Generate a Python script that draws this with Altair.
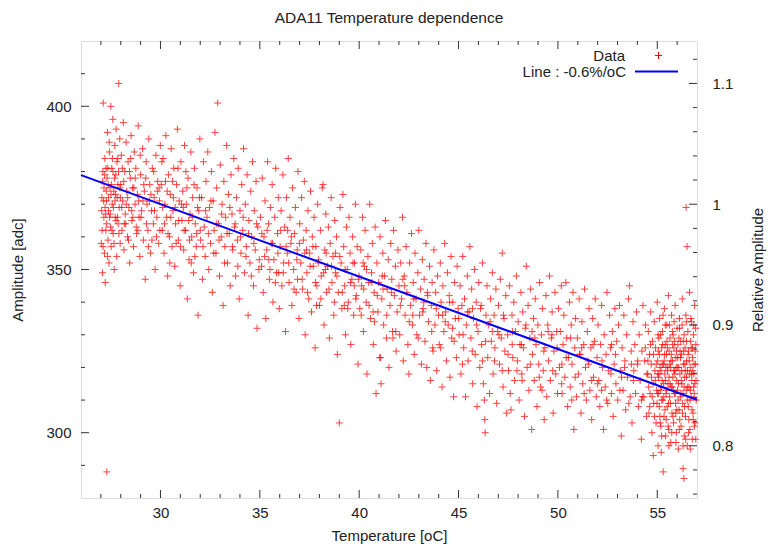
import altair as alt
import pandas as pd

# ---- scatter data (temperature [oC], amplitude [adc]) ----
seg_27_30 = [(27.02,358),(27.05,372),(27.08,349),(27.10,380),(27.12,401),(27.15,366),(27.18,355),(27.20,384),(27.22,346),(27.25,362),
(27.28,371),(27.30,288),(27.31,378),(27.33,392),(27.36,359),(27.38,368),(27.41,352),(27.43,386),(27.46,375),(27.48,363),(27.50,400),
(27.52,357),(27.55,381),(27.57,370),(27.60,396),(27.62,361),(27.65,374),(27.67,350),(27.70,388),(27.72,366),(27.75,379),(27.77,393),
(27.80,354),(27.82,372),(27.85,384),(27.87,364),(27.90,407),(27.92,369),(27.95,390),(27.97,358),(28.00,376),(28.03,385),(28.06,362),
(28.10,371),(28.13,395),(28.16,356),(28.20,380),(28.23,367),(28.27,389),(28.30,374),(28.34,360),(28.37,383),(28.41,369),(28.45,352),
(28.48,378),(28.52,391),(28.56,365),(28.60,375),(28.64,357),(28.68,386),(28.72,370),(28.76,381),(28.80,361),(28.84,373),(28.88,394),
(28.92,366),(28.96,354),(29.00,379),(29.05,368),(29.10,387),(29.14,359),(29.19,374),(29.23,347),(29.28,383),(29.32,370),(29.37,362),
(29.41,390),(29.46,376),(29.50,355),(29.55,368),(29.59,381),(29.64,364),(29.68,372),(29.73,350),(29.77,385),(29.82,366),(29.86,377),
(29.91,358),(29.95,371),(29.99,388)]

seg_30_35 = [(30.04,376),(30.09,362),(30.13,384),(30.18,355),(30.22,370),(30.27,391),(30.31,366),(30.36,348),(30.40,379),(30.45,360),
(30.49,373),(30.54,387),(30.58,357),(30.63,368),(30.67,381),(30.72,351),(30.76,364),(30.81,376),(30.85,393),(30.90,359),(30.94,371),
(30.99,345),(31.03,383),(31.08,365),(31.12,374),(31.17,356),(31.21,388),(31.26,362),(31.30,370),(31.35,341),(31.39,378),(31.44,353),
(31.48,367),(31.53,386),(31.57,360),(31.62,372),(31.66,349),(31.71,381),(31.75,364),(31.80,357),(31.84,375),(31.89,336),(31.93,368),
(31.98,390),(32.02,359),(32.07,372),(32.11,347),(32.16,383),(32.20,363),(32.25,354),(32.29,377),(32.34,366),(32.38,386),(32.43,350),
(32.47,369),(32.52,358),(32.56,380),(32.61,343),(32.65,371),(32.70,362),(32.74,392),(32.79,355),(32.83,375),(32.88,401),(32.92,364),
(32.97,348),(33.01,382),(33.06,360),(33.10,370),(33.15,339),(33.19,377),(33.24,357),(33.28,366),(33.33,388),(33.37,352),(33.42,373),
(33.46,361),(33.51,345),(33.55,379),(33.60,367),(33.64,356),(33.69,384),(33.73,363),(33.78,348),(33.82,372),(33.87,359),(33.91,381),
(33.96,341),(34.00,368),(34.05,355),(34.09,376),(34.14,362),(34.18,387),(34.23,349),(34.27,370),(34.32,357),(34.36,379),(34.41,336),
(34.45,365),(34.50,352),(34.54,374),(34.59,360),(34.63,383),(34.68,345),(34.72,368),(34.77,356),(34.81,377),(34.86,332),(34.90,363),
(34.95,350)]

seg_35_40 = [(35.03,366),(35.08,351),(35.12,378),(35.17,343),(35.21,360),(35.26,371),(35.30,335),(35.35,356),(35.39,383),(35.44,364),
(35.48,347),(35.53,369),(35.57,358),(35.62,376),(35.66,340),(35.71,353),(35.75,366),(35.80,381),(35.84,349),(35.89,361),(35.93,372),
(35.98,338),(36.02,357),(36.07,368),(36.11,345),(36.16,379),(36.20,352),(36.25,363),(36.29,331),(36.34,372),(36.38,355),(36.43,384),
(36.47,346),(36.52,366),(36.56,358),(36.61,339),(36.65,375),(36.70,350),(36.74,361),(36.79,369),(36.83,343),(36.88,356),(36.92,380),
(36.97,335),(37.01,364),(37.06,352),(37.10,372),(37.15,344),(37.19,359),(37.24,377),(37.28,330),(37.33,362),(37.37,349),(37.42,368),
(37.46,341),(37.51,355),(37.55,374),(37.60,337),(37.64,360),(37.69,351),(37.73,366),(37.78,326),(37.82,357),(37.87,345),(37.91,370),
(37.96,353),(38.00,339),(38.05,362),(38.09,348),(38.14,375),(38.18,376),(38.23,333),(38.27,356),(38.32,367),(38.36,343),(38.41,351),
(38.45,363),(38.50,329),(38.54,358),(38.59,372),(38.63,346),(38.68,354),(38.72,336),(38.77,365),(38.81,349),(38.86,360),(38.90,324),
(38.95,343),(39.00,303),(39.04,369),(39.09,352),(39.13,338),(39.18,373),(39.22,357),(39.27,345),(39.31,330),(39.36,363),(39.40,350),
(39.45,340),(39.49,366),(39.54,355),(39.58,327),(39.63,347),(39.67,360),(39.72,336),(39.76,352),(39.81,370),(39.85,342),(39.90,357),
(39.94,321),(39.99,348)]

seg_40_45 = [(40.03,338),(40.08,356),(40.12,345),(40.17,366),(40.21,331),(40.26,351),(40.30,362),(40.35,340),(40.39,318),(40.44,354),
(40.48,346),(40.53,370),(40.57,335),(40.62,349),(40.66,358),(40.71,327),(40.75,343),(40.80,363),(40.85,312),(40.89,352),(40.94,337),
(40.98,346),(41.03,323),(41.05,360),(41.08,323),(41.10,315),(41.14,341),(41.19,355),(41.23,333),(41.28,348),(41.32,365),(41.37,329),
(41.41,344),(41.46,353),(41.50,320),(41.55,339),(41.59,358),(41.64,347),(41.68,331),(41.73,362),(41.77,342),(41.82,351),(41.86,325),
(41.91,337),(41.95,356),(42.00,345),(42.04,330),(42.09,352),(42.13,341),(42.18,366),(42.22,322),(42.27,348),(42.31,336),(42.36,357),
(42.40,343),(42.45,327),(42.50,318),(42.54,352),(42.59,339),(42.63,361),(42.68,333),(42.72,346),(42.77,324),(42.81,355),(42.86,341),
(42.90,330),(42.95,349),(43.00,362),(43.04,336),(43.09,344),(43.13,321),(43.18,353),(43.22,338),(43.27,347),(43.31,328),(43.36,358),
(43.40,320),(43.45,342),(43.49,334),(43.54,351),(43.58,316),(43.63,339),(43.67,346),(43.72,325),(43.76,356),(43.81,333),(43.85,343),
(43.90,319),(43.94,348),(43.99,336),(44.03,327),(44.08,352),(44.12,340),(44.17,314),(44.21,345),(44.26,331),(44.30,358),(44.35,337),
(44.39,322),(44.44,349),(44.48,333),(44.53,342),(44.57,317),(44.62,354),(44.66,329),(44.71,340),(44.75,311),(44.80,346),(44.84,335),
(44.89,323),(44.93,351),(44.98,338)]

seg_45_50 = [(45.03,330),(45.08,345),(45.12,318),(45.17,339),(45.21,354),(45.26,326),(45.30,341),(45.35,311),(45.39,333),(45.44,348),
(45.48,322),(45.53,337),(45.57,357),(45.62,329),(45.66,344),(45.71,315),(45.75,335),(45.80,350),(45.84,324),(45.89,340),(45.93,308),
(45.98,331),(46.02,346),(46.07,320),(46.11,338),(46.16,327),(46.20,352),(46.25,315),(46.30,310),(46.32,304),(46.34,300),(46.38,336),
(46.43,345),(46.47,323),(46.52,333),(46.56,312),(46.61,341),(46.65,328),(46.70,349),(46.74,318),(46.79,336),(46.83,326),(46.88,344),
(46.92,309),(46.97,331),(47.01,339),(47.06,321),(47.10,347),(47.15,329),(47.20,355),(47.24,314),(47.29,335),(47.33,325),(47.38,342),
(47.42,306),(47.47,330),(47.51,319),(47.56,345),(47.60,312),(47.64,307),(47.69,336),(47.73,323),(47.78,340),(47.82,316),(47.87,331),
(47.91,348),(47.96,322),(48.00,334),(48.05,310),(48.09,327),(48.14,343),(48.18,318),(48.23,337),(48.27,326),(48.32,305),(48.36,332),
(48.41,351),(48.45,320),(48.50,339),(48.54,313),(48.59,329),(48.63,344),(48.68,301),(48.72,324),(48.77,335),(48.81,316),(48.86,341),
(48.90,327),(48.95,308),(48.99,333),(49.04,321),(49.08,346),(49.13,314),(49.17,330),(49.22,338),(49.26,319),(49.31,304),(49.35,326),
(49.40,342),(49.44,311),(49.49,333),(49.53,322),(49.58,348),(49.62,316),(49.67,329),(49.71,337),(49.76,306),(49.80,325),(49.85,343),
(49.89,318),(49.94,331),(49.98,312)]

seg_50_545 = [(50.03,338),(50.08,320),(50.12,331),(50.17,345),(50.21,312),(50.26,327),(50.30,336),(50.35,317),(50.40,346),(50.44,329),
(50.49,308),(50.53,323),(50.58,340),(50.62,314),(50.67,333),(50.71,321),(50.76,343),(50.80,301),(50.85,326),(50.89,335),(50.94,311),
(50.98,329),(51.03,318),(51.07,341),(51.12,324),(51.16,306),(51.21,334),(51.25,315),(51.30,327),(51.34,344),(51.39,320),(51.43,310),
(51.48,331),(51.52,322),(51.57,338),(51.61,313),(51.66,326),(51.70,304),(51.75,335),(51.79,317),(51.84,328),(51.88,341),(51.93,311),
(51.97,323),(52.02,333),(52.06,316),(52.11,308),(52.15,327),(52.20,339),(52.24,320),(52.29,301),(52.33,330),(52.38,314),(52.42,324),
(52.47,343),(52.51,309),(52.56,319),(52.60,336),(52.65,326),(52.69,312),(52.74,331),(52.78,305),(52.83,321),(52.87,338),(52.92,315),
(52.96,328),(53.01,310),(53.05,333),(53.10,339),(53.14,319),(53.19,299),(53.23,326),(53.28,313),(53.32,336),(53.37,322),(53.41,307),
(53.46,330),(53.50,317),(53.55,341),(53.60,345),(53.64,311),(53.69,325),(53.73,303),(53.78,334),(53.82,319),(53.87,327),(53.91,312),
(53.96,337),(54.00,321),(54.05,308),(54.09,330),(54.14,316),(54.20,298),(54.23,325),(54.28,339),(54.32,311),(54.37,322),(54.41,333),
(54.46,305)]

seg_545_57 = [(54.52,318),(54.55,331),(54.58,306),(54.61,324),(54.64,312),(54.67,337),(54.70,321),(54.73,300),(54.76,328),(54.79,315),
(54.80,293),(54.82,309),(54.85,334),(54.88,319),(54.91,326),(54.94,303),(54.97,313),(55.00,340),(55.02,322),(55.04,296),(55.06,317),
(55.08,329),(55.10,308),(55.12,335),(55.14,320),(55.16,313),(55.18,302),(55.20,294),(55.22,326),(55.24,316),(55.26,331),(55.28,310),
(55.30,288),(55.32,321),(55.34,305),(55.36,338),(55.38,318),(55.40,327),(55.42,299),(55.44,312),(55.46,324),(55.48,333),(55.50,308),
(55.52,319),(55.54,315),(55.56,342),(55.58,301),(55.60,325),(55.62,311),(55.64,329),(55.66,320),(55.68,297),(55.70,314),(55.72,336),
(55.74,306),(55.76,322),(55.78,317),(55.80,330),(55.82,303),(55.84,326),(55.86,312),(55.88,319),(55.90,339),(55.92,309),(55.94,323),
(55.96,300),(55.98,316),(56.00,332),(56.02,313),(56.04,327),(56.06,295),(56.08,320),(56.10,307),(56.12,335),(56.14,318),(56.16,311),
(56.18,328),(56.20,302),(56.22,324),(56.24,315),(56.26,341),(56.28,309),(56.30,289),(56.32,321),(56.34,286),(56.35,330),(56.36,299),
(56.38,317),(56.40,326),(56.42,305),(56.44,336),(56.45,369),(56.46,313),(56.48,322),(56.50,357),(56.51,296),(56.52,319),(56.54,331),
(56.56,308),(56.58,325),(56.60,314),(56.62,343),(56.64,301),(56.66,320),(56.68,328),(56.70,311),(56.72,334),(56.74,316),(56.76,298),
(56.78,323),(56.80,306),(56.82,330),(56.84,318),(56.86,312),(56.88,339),(56.90,303),(56.92,321),(56.94,327),
(55.01,312),(55.05,325),(55.09,318),(55.13,305),(55.17,330),(55.21,314),(55.25,321),(55.29,336),(55.33,311),(55.37,324),(55.41,316),
(55.45,304),(55.49,328),(55.53,320),(55.57,309),(55.61,333),(55.65,315),(55.69,322),(55.73,300),(55.77,327),(55.81,313),(55.85,334),
(55.89,318),(55.93,306),(55.97,325),(56.01,320),(56.05,310),(56.09,329),(56.13,304),(56.17,323),(56.21,316),(56.25,333),(56.29,312),
(56.33,325),(56.37,308),(56.41,319),(56.47,328),(56.53,314),(56.57,300),(56.61,322),(56.65,310),(56.69,335),(56.73,318),(56.77,326),
(56.81,304),(56.85,321),(56.89,315),(56.93,332),(56.96,310)]

# denser core of the cloud, close to the fitted line
core_27_35 = [(27.04,368),(27.09,377),(27.14,371),(27.19,379),(27.24,367),(27.27,374),(27.35,381),(27.39,372),(27.44,366),(27.53,376),
(27.58,384),(27.63,369),(27.69,378),(27.74,373),(27.83,366),(27.89,380),(27.96,375),(28.05,369),(28.15,377),(28.25,364),(28.35,372),
(28.44,380),(28.55,368),(28.66,375),(28.78,363),(28.90,371),(29.02,366),(29.16,376),(29.30,364),(29.44,371),(29.57,359),(29.70,368),
(29.84,374),(29.97,362),(30.11,369),(30.25,377),(30.38,361),(30.52,366),(30.65,372),(30.79,358),(30.92,365),(31.06,370),(31.19,362),
(31.33,375),(31.46,359),(31.60,366),(31.73,354),(31.87,369),(32.00,362),(32.14,357),(32.27,368),(32.41,361),(32.54,371),(32.68,355),
(32.81,364),(32.95,359),(33.08,367),(33.22,352),(33.35,361),(33.49,369),(33.62,357),(33.76,364),(33.89,351),(34.03,360),(34.16,366),
(34.30,354),(34.43,361),(34.57,348),(34.70,358),(34.84,364),(34.97,353)]

core_27_32 = [(27.06,362),(27.11,357),(27.16,375),(27.21,369),(27.26,381),(27.29,364),(27.34,354),(27.37,376),(27.42,389),(27.47,367),
(27.51,373),(27.56,362),(27.61,380),(27.66,358),(27.71,371),(27.76,365),(27.81,383),(27.86,376),(27.91,361),(27.98,372),(28.08,381),
(28.18,364),(28.28,370),(28.39,359),(28.50,384),(28.61,366),(28.73,378),(28.86,362),(28.98,385),(29.12,371),(29.26,378),(29.39,357),
(29.52,373),(29.66,380),(29.80,360),(29.93,375),(30.07,383),(30.20,364),(30.34,374),(30.47,352),(30.61,377),(30.74,369),(30.88,381),
(31.01,357),(31.15,369),(31.28,380),(31.42,365),(31.55,352),(31.69,376),(31.82,361),(31.96,372)]

core_35_45 = [(35.10,361),(35.24,354),(35.37,362),(35.51,350),(35.64,358),(35.78,346),(35.91,355),(36.05,362),(36.18,349),(36.32,357),
(36.45,352),(36.59,360),(36.72,344),(36.86,353),(36.99,358),(37.13,347),(37.26,355),(37.40,343),(37.53,351),(37.67,357),(37.80,346),
(37.94,352),(38.07,341),(38.21,349),(38.34,355),(38.48,344),(38.61,351),(38.75,340),(38.88,348),(39.02,354),(39.15,343),(39.29,350),
(39.42,338),(39.56,346),(39.69,352),(39.83,341),(39.96,347),(40.10,336),(40.23,344),(40.37,350),(40.50,339),(40.64,346),(40.77,334),
(40.91,342),(41.16,348),(41.39,336),(41.62,343),(41.84,331),(42.07,339),(42.29,345),(42.52,334),(42.75,341),(42.97,329),(43.20,337),
(43.43,343),(43.65,331),(43.88,338),(44.10,326),(44.33,334),(44.55,340),(44.78,328)]

core_35_545 = [(35.45,353),(35.95,349),(36.40,362),(36.90,347),(37.35,356),(37.85,339),(38.30,350),(38.80,355),(39.25,339),(39.75,345),
(40.20,352),(40.70,337),(41.20,344),(41.70,329),(42.20,347),(42.70,336),(43.25,340),(43.70,326),(44.20,336),(44.70,332),(45.20,321),
(45.70,338),(46.20,322),(46.70,331),(47.20,319),(47.70,327),(48.20,316),(48.70,331),(49.20,313),(49.70,330),(50.20,321),(50.70,310),
(51.20,326),(51.70,316),(52.20,313),(52.70,327),(53.20,317),(53.70,321),(54.20,310),(54.40,326)]

core_45_545 = [(45.01,335),(45.23,330),(45.46,337),(45.69,325),(45.91,333),(46.14,339),(46.36,328),(46.59,334),(46.81,322),(47.04,330),
(47.26,336),(47.49,324),(47.71,331),(47.94,319),(48.16,327),(48.39,333),(48.61,321),(48.84,329),(49.06,317),(49.29,325),(49.51,331),
(49.74,319),(49.96,326),(50.19,315),(50.42,323),(50.64,329),(50.87,317),(51.09,324),(51.32,312),(51.55,321),(51.77,327),(52.00,315),
(52.22,322),(52.45,310),(52.67,318),(52.90,324),(53.12,313),(53.35,320),(53.57,309),(53.80,316),(54.02,322),(54.25,311),(54.48,318)]

core_545_57 = [(54.53,322),(54.57,314),(54.62,308),(54.66,327),(54.71,317),(54.75,311),(54.81,324),(54.86,305),(54.90,316),(54.95,321),
(54.99,309),(55.03,318),(55.07,312),(55.11,324),(55.15,303),(55.19,319),(55.23,310),(55.27,327),(55.31,315),(55.35,322),(55.39,307),
(55.43,320),(55.47,313),(55.51,326),(55.55,302),(55.59,317),(55.63,321),(55.67,309),(55.71,324),(55.75,314),(55.79,305),(55.83,319),
(55.87,328),(55.91,312),(55.95,320),(55.99,307),(56.03,323),(56.07,315),(56.11,301),(56.15,325),(56.19,312),(56.23,319),(56.27,306),
(56.31,328),(56.35,314),(56.39,321),(56.43,298),(56.47,317),(56.51,310),(56.55,324),(56.59,304),(56.63,318),(56.67,313),(56.71,326),
(56.75,307),(56.79,319),(56.83,314),(56.87,302),(56.91,325),(56.95,316),(55.04,330),(55.22,299),(55.40,333),(55.58,296),(55.76,331),
(55.94,297),(56.12,332),(56.30,296),(56.48,334),(56.66,295),(56.84,333),(56.94,298)]

# ---- fitted line (endpoints at the x-range edges) ----
line_temp = [26.0, 57.0]
line_amp = [378.9, 310.1]
REF_AMP = 370.0  # amplitude giving relative amplitude 1

# ---- tick values ----
x_major = [30, 35, 40, 45, 50, 55]
x_minor = [27, 28, 29, 31, 32, 33, 34, 36, 37, 38, 39, 41, 42, 43, 44, 46, 47, 48, 49, 51, 52, 53, 54, 56]
y_major = [300, 350, 400]
y_minor = [290, 310, 320, 330, 340, 360, 370, 380, 390, 410]
r_major = [0.8, 0.9, 1.0, 1.1]
r_minor = [0.76, 0.78, 0.82, 0.84, 0.86, 0.88, 0.92, 0.94, 0.96, 0.98, 1.02, 1.04, 1.06, 1.08, 1.12]

X_DOMAIN = [26, 57]
Y_DOMAIN = [280, 420]
R_DOMAIN = [Y_DOMAIN[0] / REF_AMP, Y_DOMAIN[1] / REF_AMP]

W, H = 616, 457
FONT = "Liberation Sans"
FS = 15
FRAME = "#333333"
TXT = "#222222"
CROSS = "M -1 0 L 1 0 M 0 -1 L 0 1"

pts = (seg_27_30 + seg_30_35 + seg_35_40 + seg_40_45 + seg_45_50 + seg_50_545 + seg_545_57
       + core_27_35 + core_27_32 + core_35_45 + core_35_545 + core_45_545 + core_545_57)
df = pd.DataFrame(pts, columns=["temp", "amp"])
df["series"] = "Data"
line_df = pd.DataFrame({"temp": line_temp, "amp": line_amp, "series": "Line : -0.6%/oC"})

xscale = alt.Scale(domain=X_DOMAIN, nice=False, zero=False)
yscale = alt.Scale(domain=Y_DOMAIN, nice=False, zero=False)
rscale = alt.Scale(domain=R_DOMAIN, nice=False, zero=False)

axis_common = dict(ticks=False, domain=False, grid=False,
                   labelFont=FONT, labelFontSize=FS, labelColor=TXT,
                   titleFont=FONT, titleFontSize=FS, titleFontWeight="normal", titleColor=TXT)

# shared x axis: defined once (other layers leave the x axis unset so it merges)
x_axis = alt.Axis(orient="bottom", values=x_major, title="Temperature [oC]",
                  labelPadding=7, titlePadding=8, **axis_common)

scatter = alt.Chart(df).mark_point(shape=CROSS, filled=False, size=49, strokeWidth=1, opacity=0.75).encode(
    x=alt.X("temp:Q", scale=xscale, axis=x_axis),
    y=alt.Y("amp:Q", scale=yscale,
            axis=alt.Axis(orient="left", values=y_major, title="Amplitude [adc]",
                          labelPadding=10, titlePadding=20, **axis_common)),
    stroke=alt.Stroke("series:N", scale=alt.Scale(domain=["Data"], range=["#ff0000"]),
                      legend=alt.Legend(title=None, orient="none", legendX=570, legendY=7,
                                        symbolType=CROSS, symbolSize=49, symbolStrokeWidth=1,
                                        symbolFillColor="transparent", symbolOpacity=1,
                                        labelAlign="right", labelOffset={"expr": "-41"}, labelFont=FONT,
                                        labelFontSize=FS, labelColor=TXT, padding=0)),
)

line = alt.Chart(line_df).mark_line(strokeWidth=2).encode(
    x=alt.X("temp:Q", scale=xscale, axis=x_axis),
    y=alt.Y("amp:Q", scale=yscale, axis=None),
    color=alt.Color("series:N", scale=alt.Scale(domain=["Line : -0.6%/oC"], range=["#0000ff"]),
                    legend=alt.Legend(title=None, orient="none", legendX=553, legendY=8,
                                      symbolType="stroke", symbolSize=1849, symbolStrokeWidth=2,
                                      labelAlign="right", labelOffset={"expr": "-53"}, labelFont=FONT,
                                      labelFontSize=FS, labelColor=TXT, padding=0)),
)

def xticks(vals, length, top):
    d = pd.DataFrame({"t": vals})
    if top:
        ys = dict(y=alt.value(0), y2=alt.value(length))
    else:
        ys = dict(y=alt.value(H), y2=alt.value(H - length))
    return alt.Chart(d).mark_rule(color=FRAME, strokeWidth=1).encode(
        x=alt.X("t:Q", scale=xscale, axis=x_axis), **ys)

def yticks(vals, length):
    d = pd.DataFrame({"a": vals})
    return alt.Chart(d).mark_rule(color=FRAME, strokeWidth=1).encode(
        y=alt.Y("a:Q", scale=yscale, axis=None), x=alt.value(0), x2=alt.value(length))

right_major = alt.Chart(pd.DataFrame({"r": r_major})).mark_rule(color=FRAME, strokeWidth=1).encode(
    y=alt.Y("r:Q", scale=rscale,
            axis=alt.Axis(orient="right", values=r_major, format="~g", title="Relative Amplitude",
                          labelPadding=15, titlePadding=33, titleAngle=270, **axis_common)),
    x=alt.value(W), x2=alt.value(W - 8))
right_minor = alt.Chart(pd.DataFrame({"r": r_minor})).mark_rule(color=FRAME, strokeWidth=1).encode(
    y=alt.Y("r:Q", scale=rscale, axis=None),
    x=alt.value(W), x2=alt.value(W - 4))

chart = alt.layer(
    scatter, line,
    xticks(x_major, 8, False), xticks(x_minor, 4, False),
    xticks(x_major, 8, True), xticks(x_minor, 4, True),
    yticks(y_major, 8), yticks(y_minor, 4),
    right_major, right_minor,
).resolve_scale(
    y="independent", stroke="independent", color="independent"
).properties(
    width=W, height=H,
    title=alt.TitleParams("ADA11 Temperature dependence", font=FONT, fontSize=15.5,
                          fontWeight="normal", color=TXT, anchor="middle", offset=14),
    autosize=alt.AutoSizeParams(type="none"),
    padding={"left": 81, "top": 41, "right": 71, "bottom": 48},
).configure_view(stroke=FRAME, strokeWidth=1).configure(background="white")

chart.save("out.html", embed_options={"renderer": "svg", "actions": False})
